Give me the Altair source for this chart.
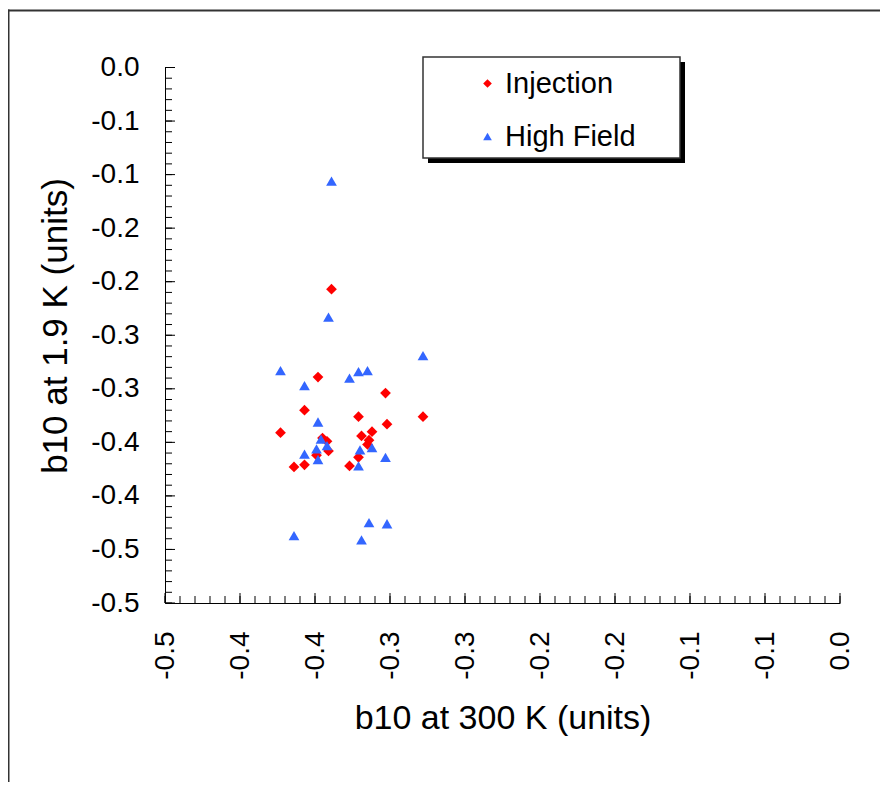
import altair as alt
import pandas as pd

# ---- data ----
series_names = ["Injection", "High Field"]
series_colors = ["#FF0000", "#3366FF"]
series_shapes = ["diamond", "triangle-up"]

inj_x = [-0.339, -0.348, -0.357, -0.303, -0.321, -0.278, -0.373, -0.302, -0.345, -0.342,
         -0.341, -0.349, -0.364, -0.357, -0.319, -0.312, -0.314, -0.315, -0.321, -0.327]
inj_y = [-0.207, -0.289, -0.320, -0.304, -0.326, -0.326, -0.341, -0.333, -0.346, -0.349,
         -0.358, -0.362, -0.373, -0.371, -0.344, -0.340, -0.348, -0.352, -0.364, -0.372]

hf_x = [-0.339, -0.341, -0.373, -0.357, -0.327, -0.321, -0.315, -0.278, -0.348, -0.346, -0.342,
        -0.349, -0.357, -0.348, -0.320, -0.312, -0.303, -0.321, -0.364, -0.314, -0.302, -0.319]
hf_y = [-0.106, -0.233, -0.283, -0.297, -0.290, -0.284, -0.283, -0.269, -0.331, -0.347, -0.353,
        -0.356, -0.361, -0.366, -0.357, -0.355, -0.364, -0.372, -0.437, -0.425, -0.426, -0.441]

x_tick_values = [-0.45, -0.40, -0.35, -0.30, -0.25, -0.20, -0.15, -0.10, -0.05, 0.0]
x_tick_labels = ["-0.5", "-0.4", "-0.4", "-0.3", "-0.3", "-0.2", "-0.2", "-0.1", "-0.1", "0.0"]
y_tick_values = [0.0, -0.05, -0.10, -0.15, -0.20, -0.25, -0.30, -0.35, -0.40, -0.45, -0.50]
y_tick_labels = ["0.0", "-0.1", "-0.1", "-0.2", "-0.2", "-0.3", "-0.3", "-0.4", "-0.4", "-0.5", "-0.5"]

x_minor_values = [round(-0.45 + 0.01 * k, 2) for k in range(46)]
y_minor_values = [round(-0.01 * k, 2) for k in range(51)]

x_title = "b10 at 300 K (units)"
y_title = "b10 at 1.9 K (units)"

# ---- tables ----
rows = [{"series": series_names[0], "x": a, "y": b} for a, b in zip(inj_x, inj_y)]
rows += [{"series": series_names[1], "x": a, "y": b} for a, b in zip(hf_x, hf_y)]
df = pd.DataFrame(rows)

W, H = 675, 535.5
FONT = "Liberation Sans"

x_scale = alt.Scale(domain=[-0.45, 0.0], nice=False, zero=False)
y_scale = alt.Scale(domain=[-0.5, 0.0], nice=False, zero=False)

x_label_expr = "[" + ",".join(f"'{s}'" for s in x_tick_labels) + "][round((datum.value + 0.45) / 0.05)]"
y_label_expr = "[" + ",".join(f"'{s}'" for s in y_tick_labels) + "][round(-datum.value / 0.05)]"

x_axis = alt.Axis(
    values=x_tick_values, labelExpr=x_label_expr, labelAngle=270, labelAlign="right",
    labelBaseline="middle", labelPadding=28, labelFontSize=28, labelFont=FONT,
    labelColor="black", labelOverlap=False, labelFlush=False, ticks=False, grid=False,
    domainColor="black", domainWidth=1, title=x_title, titleFont=FONT, titleFontSize=34,
    titleFontWeight="normal", titleColor="black", titleY=115, titleBaseline="middle")
y_axis = alt.Axis(
    values=y_tick_values, labelExpr=y_label_expr, labelPadding=26, labelFontSize=28,
    labelFont=FONT, labelColor="black", labelOverlap=False, labelFlush=False,
    labelBaseline="middle", ticks=False, grid=False, domainColor="black", domainWidth=1,
    title=y_title, titleFont=FONT, titleFontSize=35, titleFontWeight="normal",
    titleColor="black", titleAngle=270, titleX=-110, titleY=258, titleAlign="center",
    titleBaseline="middle")

one = alt.Data(values=[{"k": 1}])

# page frame (top and left border lines)
frame_top = alt.Chart(one).mark_rule(color="#333333", strokeWidth=2).encode(
    x=alt.value(-157), x2=alt.value(W + 60), y=alt.value(-57))
frame_left = alt.Chart(one).mark_rule(color="#333333", strokeWidth=2).encode(
    x=alt.value(-156.5), y=alt.value(-58), y2=alt.value(H + 200))

# inward ticks
xt_minor = alt.Chart(pd.DataFrame({"x": x_minor_values})).mark_rule(color="black", strokeWidth=1).encode(
    x=alt.X("x:Q", scale=x_scale, axis=x_axis), y=alt.value(H), y2=alt.value(H - 7))
xt_major = alt.Chart(pd.DataFrame({"x": x_tick_values})).mark_rule(color="black", strokeWidth=1).encode(
    x=alt.X("x:Q", scale=x_scale, axis=x_axis), y=alt.value(H), y2=alt.value(H - 10))
yt_minor = alt.Chart(pd.DataFrame({"y": y_minor_values})).mark_rule(color="black", strokeWidth=1).encode(
    y=alt.Y("y:Q", scale=y_scale, axis=y_axis), x=alt.value(0), x2=alt.value(7))
yt_major = alt.Chart(pd.DataFrame({"y": y_tick_values})).mark_rule(color="black", strokeWidth=1).encode(
    y=alt.Y("y:Q", scale=y_scale, axis=y_axis), x=alt.value(0), x2=alt.value(10))

# legend box with shadow
legend_shadow = alt.Chart(one).mark_rect(color="black").encode(
    x=alt.value(263), x2=alt.value(520), y=alt.value(-5.5), y2=alt.value(95.5))
legend_box = alt.Chart(one).mark_rect(fill="white", stroke="#333333", strokeWidth=1.5).encode(
    x=alt.value(258), x2=alt.value(515), y=alt.value(-10.5), y2=alt.value(90.5))

legend = alt.Legend(orient="none", legendX=308, legendY=1.5, labelFontSize=29, labelFont=FONT,
                    labelColor="black", symbolSize=75, symbolStrokeWidth=0, rowPadding=23,
                    labelOffset=3, padding=0)

points = alt.Chart(df).mark_point(filled=True, opacity=1, size=115, strokeWidth=0).encode(
    x=alt.X("x:Q", scale=x_scale, axis=x_axis),
    y=alt.Y("y:Q", scale=y_scale, axis=y_axis),
    color=alt.Color("series:N", title=None,
                    scale=alt.Scale(domain=series_names, range=series_colors), legend=legend),
    shape=alt.Shape("series:N", title=None,
                    scale=alt.Scale(domain=series_names, range=series_shapes), legend=legend),
)

chart = alt.layer(
    frame_top, frame_left, xt_minor, xt_major, yt_minor, yt_major,
    legend_shadow, legend_box, points
).properties(
    width=W, height=H,
    autosize=alt.AutoSizeParams(type="none"),
    padding={"left": 157, "top": 59.5, "right": 40, "bottom": 179},
    background="white",
).configure_view(strokeWidth=0)

chart.save("out.html", embed_options={"renderer": "svg", "actions": False})
